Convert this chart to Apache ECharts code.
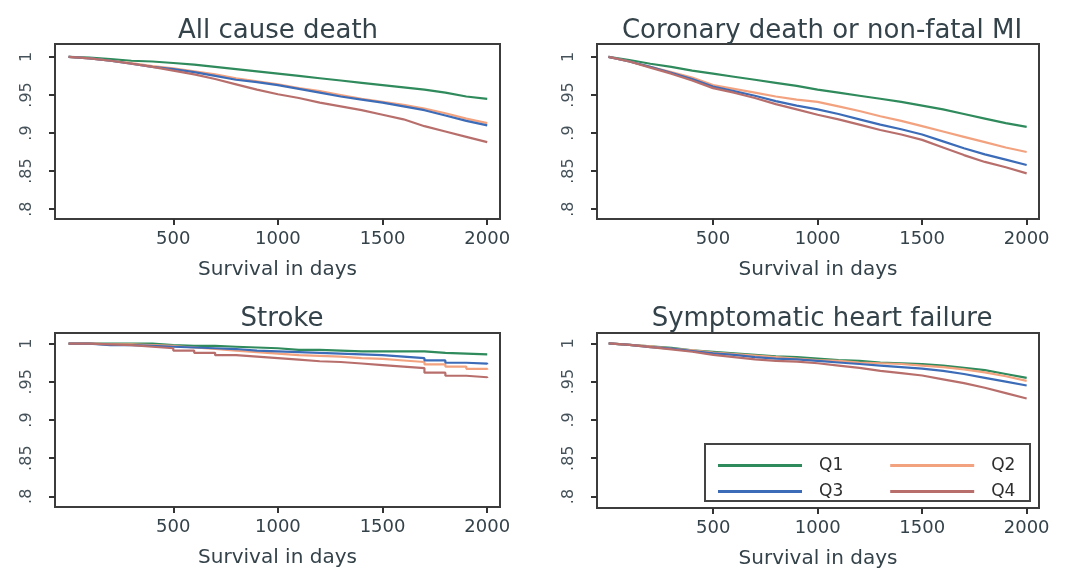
<!DOCTYPE html>
<html>
<head>
<meta charset="utf-8">
<script src="https://cdn.jsdelivr.net/npm/echarts@6/dist/echarts.min.js"></script>
<style>
  html, body { margin: 0; padding: 0; background: #fff; }
  #main { width: 1066px; height: 570px; }
</style>
</head>
<body>
<div id="main"></div>
<script>
// survival time (days)
const days = [0, 100, 200, 300, 400, 500, 600, 700, 800, 900, 1000, 1100, 1200, 1300, 1400, 1500, 1600, 1700, 1800, 1900, 2000];
const groups = ["Q1", "Q2", "Q3", "Q4"];
const panelTitles = ["All cause death", "Coronary death or non-fatal MI", "Stroke", "Symptomatic heart failure"];
const xTicks = [500, 1000, 1500, 2000];
const yTicks = [0.8, 0.85, 0.9, 0.95, 1];

// All cause death
const allQ1 = [1, .999, .997, .995, .994, .992, .990, .987, .984, .981, .978, .975, .972, .969, .966, .963, .960, .957, .953, .948, .945];
const allQ2 = [1, .998, .995, .992, .988, .985, .981, .977, .972, .968, .964, .959, .955, .950, .945, .941, .937, .932, .926, .919, .913];
const allQ3 = [1, .998, .995, .991, .987, .984, .980, .975, .970, .967, .963, .958, .953, .948, .944, .940, .935, .930, .923, .916, .910];
const allQ4 = [1, .998, .995, .991, .987, .982, .977, .971, .964, .957, .951, .946, .940, .935, .930, .924, .918, .909, .902, .895, .888];

// Coronary death or non-fatal MI
const corQ1 = [1, .996, .991, .987, .982, .978, .974, .970, .966, .962, .957, .953, .949, .945, .941, .936, .931, .925, .919, .913, .908];
const corQ2 = [1, .994, .987, .980, .973, .963, .958, .953, .948, .944, .941, .935, .929, .922, .916, .909, .902, .895, .888, .881, .875];
const corQ3 = [1, .994, .987, .979, .971, .961, .955, .949, .942, .936, .931, .925, .918, .911, .905, .898, .889, .880, .872, .865, .858];
const corQ4 = [1, .994, .986, .978, .969, .959, .953, .946, .938, .931, .924, .918, .911, .904, .898, .891, .881, .871, .862, .855, .847];

// Stroke
const strQ1 = [1, 1, 1, 1, .998, .997, .997, .996, .995, .994, .992, .992, .991, .990, .990, .990, .990, .988, .987, .986, .986];
const strQ2 = [1, .999, .999, .998, .997, .995, .993, .991, .989, .987, .985, .984, .983, .981, .980, .978, .976, .973, .970, .967, .966];
const strQ3 = [1, .998, .998, .997, .996, .995, .994, .993, .991, .990, .989, .988, .987, .986, .985, .983, .981, .978, .975, .974, .973];
const strQ4 = [1, .999, .998, .996, .994, .991, .988, .985, .983, .981, .979, .977, .976, .974, .972, .970, .968, .962, .958, .956, .955];

// Symptomatic heart failure
const hfQ1 = [1, .998, .996, .994, .991, .989, .987, .985, .983, .982, .980, .978, .977, .975, .974, .973, .971, .968, .965, .960, .955];
const hfQ2 = [1, .998, .996, .993, .991, .988, .986, .984, .982, .980, .978, .977, .975, .974, .973, .971, .969, .966, .962, .957, .951];
const hfQ3 = [1, .998, .995, .993, .990, .987, .985, .982, .980, .979, .977, .975, .973, .971, .969, .967, .964, .960, .955, .950, .945];
const hfQ4 = [1, .998, .995, .992, .989, .985, .982, .979, .977, .976, .974, .971, .968, .964, .961, .958, .953, .948, .942, .935, .928];

const panelData = [
  [allQ1, allQ2, allQ3, allQ4],
  [corQ1, corQ2, corQ3, corQ4],
  [strQ1, strQ2, strQ3, strQ4],
  [hfQ1, hfQ2, hfQ3, hfQ4]
];

const colors = ["#2f8a5c", "#f3a27f", "#3c6cb8", "#b86f6c"];
const font = "DejaVu Sans";
const textColor = "#34424a";

const grids = [
  { left: 55, top: 44, width: 445, height: 175 },
  { left: 597, top: 44, width: 442, height: 175 },
  { left: 55, top: 333, width: 445, height: 174 },
  { left: 597, top: 333, width: 442, height: 175 }
];
const xRange = [[-65, 2061], [-55, 2059], [-65, 2061], [-56, 2059]];
const yRange = [[0.787, 1.017], [0.787, 1.017], [0.786, 1.014], [0.785, 1.0135]];
const titleCenters = [[273, 13], [817, 13], [277, 301], [817, 301]];

let myChart = echarts.init(document.getElementById("main"), null, { renderer: "canvas" });

const xAxes = grids.map((g, i) => ({
  type: "value",
  gridIndex: i,
  min: xRange[i][0],
  max: xRange[i][1],
  name: "Survival in days",
  nameLocation: "middle",
  nameGap: 41,
  nameTextStyle: { fontFamily: font, fontSize: 20, color: textColor },
  axisLine: { show: false, onZero: false },
  splitLine: { show: false },
  axisTick: { show: true, inside: false, customValues: xTicks, length: 6, lineStyle: { color: "#333", width: 2 } },
  axisLabel: {
    customValues: xTicks,
    margin: 11,
    fontFamily: font,
    fontSize: 18,
    color: textColor,
    formatter: (v) => String(v)
  }
}));

const yAxes = grids.map((g, i) => ({
  type: "value",
  gridIndex: i,
  min: yRange[i][0],
  max: yRange[i][1],
  axisLine: { show: false, onZero: false },
  splitLine: { show: false },
  axisTick: { show: true, inside: false, customValues: yTicks, length: 6, lineStyle: { color: "#333", width: 2 } },
  axisLabel: {
    customValues: yTicks,
    rotate: 90,
    margin: 20,
    fontFamily: font,
    fontSize: 16,
    color: "#46525a",
    formatter: (v) => (v === 1 ? "1" : String(v).replace("0.", "."))
  }
}));

let series = [];
panelData.forEach((panel, p) => {
  panel.forEach((vals, q) => {
    series.push({
      name: groups[q],
      type: "line",
      xAxisIndex: p,
      yAxisIndex: p,
      step: p === 2 ? "end" : false,
      showSymbol: false,
      symbol: "none",
      lineStyle: { width: 2.2, color: colors[q] },
      itemStyle: { color: colors[q] },
      data: days.map((d, k) => [d, vals[k]])
    });
  });
});

const legendBase = {
  orient: "horizontal",
  itemWidth: 84,
  itemHeight: 3,
  itemGap: 47,
  icon: "rect",
  z: 10,
  textStyle: { fontFamily: font, fontSize: 17, color: "#2e2e2e", padding: [0, 0, 0, 12] },
  selectedMode: false
};

let option = {
  backgroundColor: "#fff",
  animation: false,
  title: panelTitles.map((t, i) => ({
    text: t,
    left: titleCenters[i][0],
    top: titleCenters[i][1],
    textAlign: "center",
    textStyle: { fontFamily: font, fontSize: 26, fontWeight: "normal", color: textColor }
  })),
  grid: grids.map((g) => ({ ...g, show: true, borderColor: "#3c3c3c", borderWidth: 2, backgroundColor: "#fff" })),
  xAxis: xAxes,
  yAxis: yAxes,
  legend: [
    { ...legendBase, data: ["Q1", "Q2"], left: 713, top: 452 },
    { ...legendBase, data: ["Q3", "Q4"], left: 713, top: 478 }
  ],
  graphic: [
    {
      type: "rect",
      shape: { x: 705, y: 444, width: 325, height: 57 },
      style: { fill: "#fff", stroke: "#444", lineWidth: 2 },
      z: 1
    }
  ],
  series: series
};

myChart.setOption(option);
</script>
</body>
</html>
